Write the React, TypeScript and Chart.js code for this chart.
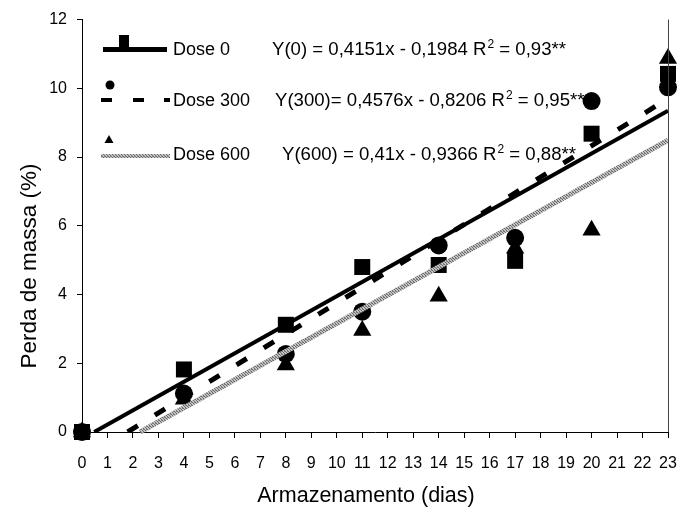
import React, { useEffect, useRef } from "react";
import { Chart, registerables } from "chart.js";

Chart.register(...registerables);

const days = [0, 4, 8, 11, 14, 17, 20, 23];
const dose0 = [0, 1.82, 3.12, 4.8, 4.86, 4.98, 8.68, 10.42];
const dose300 = [0, 1.12, 2.27, 3.5, 5.43, 5.65, 9.63, 10.03];
const dose600 = [0, 0.95, 1.95, 2.95, 3.95, 5.35, 5.87, 10.87];

// regression line end points (from the fitted equations shown)
const trend0X = [0.48, 23];
const trend0Y = [0, 9.35];
const trend300X = [1.79, 23];
const trend300Y = [0, 9.7];
const trend600X = [2.28, 23];
const trend600Y = [0, 8.49];

const seriesNames = ["Dose 0", "Dose 300", "Dose 600"];
const eqMain = [
  "Y(0) = 0,4151x - 0,1984 R",
  "Y(300)= 0,4576x - 0,8206 R",
  "Y(600) = 0,41x - 0,9366 R",
];
const eqR2 = [" = 0,93**", " = 0,95**", " = 0,88**"];

const xTitle = "Armazenamento (dias)";
const yTitle = "Perda de massa (%)";

const FONT = '"Liberation Sans", Arial, sans-serif';

function pts(xs: number[], ys: number[]) {
  return xs.map((x, i) => ({ x, y: ys[i] }));
}

function makePattern(): CanvasPattern | string {
  const c = document.createElement("canvas");
  c.width = 3;
  c.height = 3;
  const g = c.getContext("2d");
  if (!g) return "#a0a0a0";
  g.fillStyle = "#c4c4c4";
  g.fillRect(0, 0, 3, 3);
  g.fillStyle = "#6a6a6a";
  g.fillRect(0, 0, 1, 1);
  g.fillRect(1, 1, 1, 1);
  g.fillRect(2, 2, 1, 1);
  g.fillStyle = "#8a8a8a";
  g.fillRect(2, 0, 1, 1);
  const p = g.createPattern(c, "repeat");
  return p || "#a0a0a0";
}

export default function App() {
  const ref = useRef<HTMLCanvasElement | null>(null);

  useEffect(() => {
    const canvas = ref.current;
    if (!canvas) return;
    const pattern = makePattern();

    const annot = {
      id: "annot",
      afterDraw(chart: any) {
        const ctx = chart.ctx as CanvasRenderingContext2D;
        const a = chart.chartArea;
        ctx.save();
        // right border
        ctx.strokeStyle = "#444";
        ctx.lineWidth = 1;
        ctx.beginPath();
        ctx.moveTo(a.right + 0.5, a.top);
        ctx.lineTo(a.right + 0.5, a.bottom);
        ctx.stroke();

        // legend samples
        ctx.fillStyle = "#000";
        // Dose 0: solid line + square
        ctx.fillRect(103, 47, 64, 5);
        ctx.fillRect(119, 35, 10, 13);
        // Dose 300: dashes + circle
        ctx.fillRect(101, 98, 11, 4);
        ctx.fillRect(133, 98, 11, 4);
        ctx.fillRect(164, 98, 6, 4);
        ctx.beginPath();
        ctx.arc(110, 85, 4.5, 0, Math.PI * 2);
        ctx.fill();
        // Dose 600: patterned line + triangle
        ctx.beginPath();
        ctx.moveTo(109, 135);
        ctx.lineTo(113.5, 143);
        ctx.lineTo(104.5, 143);
        ctx.closePath();
        ctx.fill();
        ctx.fillStyle = pattern as any;
        ctx.fillRect(101, 154, 69, 4);

        ctx.fillStyle = "#000";
        ctx.font = `18px ${FONT}`;
        ctx.textBaseline = "alphabetic";
        ctx.textAlign = "left";
        const legY = [55, 106, 160];
        seriesNames.forEach((n, i) => ctx.fillText(n, 173, legY[i]));

        // equations
        const eqX = [272, 275, 282];
        eqMain.forEach((t, i) => {
          ctx.font = `18.6px ${FONT}`;
          ctx.fillText(t, eqX[i], legY[i]);
          const w = ctx.measureText(t).width;
          ctx.font = `12px ${FONT}`;
          ctx.fillText("2", eqX[i] + w + 1, legY[i] - 7);
          const w2 = ctx.measureText("2").width;
          ctx.font = `18.6px ${FONT}`;
          ctx.fillText(eqR2[i], eqX[i] + w + 1 + w2, legY[i]);
        });

        // axis titles
        ctx.font = `21.5px ${FONT}`;
        ctx.textAlign = "center";
        ctx.fillText(xTitle, 366, 502);
        ctx.save();
        ctx.translate(36, 266);
        ctx.rotate(-Math.PI / 2);
        ctx.font = `22.5px ${FONT}`;
        ctx.fillText(yTitle, 0, 0);
        ctx.restore();
        ctx.restore();
      },
    };

    const chart = new Chart(canvas, {
      type: "scatter",
      data: {
        datasets: [
          {
            label: "t600",
            data: pts(trend600X, trend600Y),
            showLine: true,
            borderColor: pattern as any,
            borderWidth: 5,
            pointRadius: 0,
            clip: false as any,
          },
          {
            label: "t300",
            data: pts(trend300X, trend300Y),
            showLine: true,
            borderColor: "#000",
            borderWidth: 5,
            borderDash: [12, 20],
            pointRadius: 0,
          },
          {
            label: "t0",
            data: pts(trend0X, trend0Y),
            showLine: true,
            borderColor: "#000",
            borderWidth: 4,
            pointRadius: 0,
          },
          {
            label: seriesNames[0],
            data: pts(days, dose0),
            pointStyle: "rect",
            pointRadius: 11.3,
            backgroundColor: "#000",
            borderColor: "#000",
            borderWidth: 0,
            clip: false as any,
          },
          {
            label: seriesNames[1],
            data: pts(days, dose300),
            pointStyle: "circle",
            pointRadius: 9,
            backgroundColor: "#000",
            borderColor: "#000",
            borderWidth: 0,
            clip: false as any,
          },
          {
            label: seriesNames[2],
            data: pts(days, dose600),
            pointStyle: "triangle",
            pointRadius: 10.5,
            backgroundColor: "#000",
            borderColor: "#000",
            borderWidth: 0,
            clip: false as any,
          },
        ],
      },
      options: {
        responsive: false,
        animation: false,
        devicePixelRatio: 1,
        layout: { padding: { left: 0, right: 27, top: 15, bottom: 0 } },
        plugins: {
          legend: { display: false },
          tooltip: { enabled: false },
        },
        scales: {
          x: {
            type: "linear",
            min: 0,
            max: 23,
            afterFit: (s: any) => {
              s.height = 83;
            },
            ticks: {
              stepSize: 1,
              color: "#000",
              font: { family: FONT, size: 16 },
              padding: 16,
              maxRotation: 0,
              autoSkip: false,
            },
            grid: {
              drawOnChartArea: false,
              drawTicks: true,
              tickLength: 6,
              color: "#000",
            },
            border: { display: true, color: "#000", width: 1 },
          },
          y: {
            type: "linear",
            min: 0,
            max: 12,
            afterFit: (s: any) => {
              s.width = 82;
            },
            ticks: {
              stepSize: 2,
              color: "#000",
              font: { family: FONT, size: 16 },
              padding: 10,
            },
            grid: {
              drawOnChartArea: false,
              drawTicks: true,
              tickLength: 5,
              color: "#000",
            },
            border: { display: true, color: "#000", width: 1 },
          },
        },
      },
      plugins: [annot],
    });

    return () => chart.destroy();
  }, []);

  return (
    <div style={{ position: "absolute", left: 0, top: 0, width: 695, height: 515, background: "#fff" }}>
      <canvas ref={ref} width={695} height={515} />
    </div>
  );
}
